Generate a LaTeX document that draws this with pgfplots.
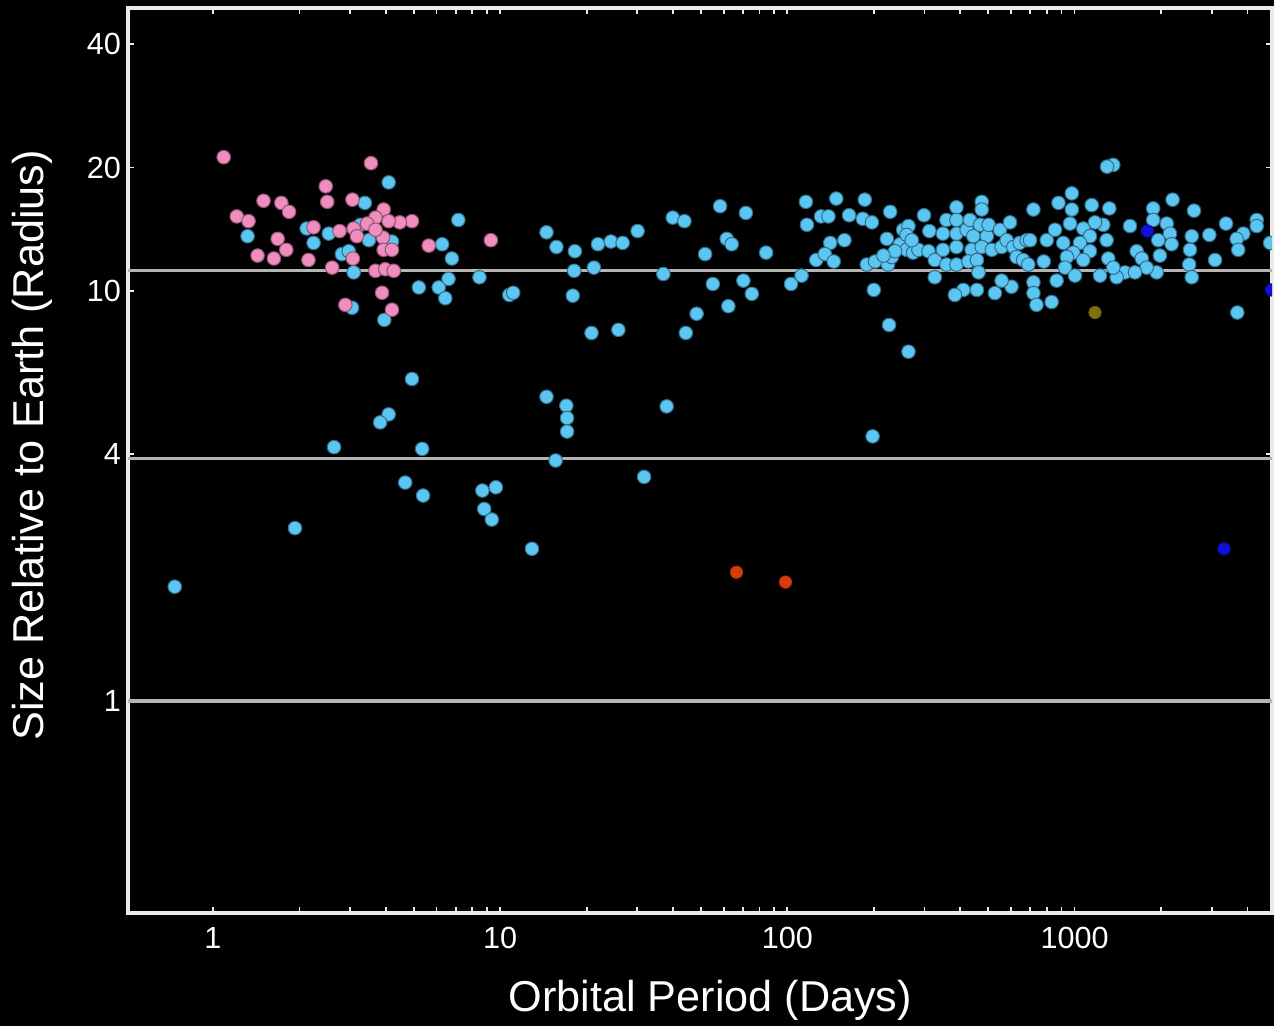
\documentclass[border=0pt]{standalone}
\usepackage{pgfplots}
\pgfplotsset{compat=1.18}
\usepackage{fontspec}
\setmainfont{Liberation Sans}

\definecolor{planetblue}{RGB}{92,198,242}
\definecolor{planetpink}{RGB}{240,140,190}
\definecolor{planetred}{RGB}{215,60,10}
\definecolor{planetnavy}{RGB}{15,15,215}
\definecolor{planetolive}{RGB}{125,115,10}
\definecolor{refline}{RGB}{180,180,180}
\definecolor{framecol}{RGB}{235,235,235}

\begin{document}
\begin{tikzpicture}
\path[use as bounding box, fill=black] (-64pt,-56.5pt) rectangle (573pt,456.5pt);
\begin{axis}[
  scale only axis, width=572pt, height=452.5pt,
  xmode=log, ymode=log,
  xmin=0.506, xmax=4868, ymin=0.304, ymax=49,
  clip marker paths=true,
  axis line style={draw=framecol, line width=1.6pt},
  xtick={1,10,100,1000}, xticklabels={1,10,100,1000},
  ytick={1,4,10,20,40}, yticklabels={1,4,10,20,40},
  minor xtick={2,3,4,5,6,7,8,9,20,30,40,50,60,70,80,90,200,300,400,500,600,700,800,900,2000,3000,4000},
  minor ytick={},
  tick align=inside, xtick pos=both, ytick pos=both,
  major tick length=3pt, minor tick length=3pt,
  tick style={draw=framecol, line width=0.9pt},
  ticklabel style={font=\fontsize{15.3}{18}\selectfont, text=white},
  xticklabel style={yshift=-3.5pt},
  xlabel={Orbital Period (Days)},
  ylabel={Size Relative to Earth (Radius)},
  label style={font=\fontsize{21.6}{26}\selectfont, text=white},
  xlabel style={at={(axis description cs:0.509,-0.0961)}, anchor=center},
  ylabel style={at={(axis description cs:-0.0839,0.5166)}, anchor=center},
]

% Earth, Neptune and Jupiter radii
\addplot[refline, line width=1.6pt, forget plot] coordinates {(0.506,1) (4868,1)};
\addplot[refline, line width=1.6pt, forget plot] coordinates {(0.506,3.9) (4868,3.9)};
\addplot[refline, line width=1.6pt, forget plot] coordinates {(0.506,11.2) (4868,11.2)};

% light blue planets
\addplot[only marks, mark=*, mark size=3.4pt,
  mark options={fill=planetblue, draw=planetblue!55!black, line width=0.5pt}] table {
x y
1.32 13.6
2.12 14.2
2.24 13.1
2.53 13.8
4.09 18.4
3.38 16.4
3.49 13.3
3.26 14.5
4.20 13.2
2.81 12.3
2.97 12.5
3.09 11.1
6.28 13.0
7.15 14.9
6.79 12.0
6.61 10.7
5.21 10.2
6.11 10.2
6.44 9.6
3.05 9.1
3.95 8.5
4.93 6.1
4.09 5.0
3.82 4.78
2.64 4.16
5.35 4.12
4.67 3.41
5.39 3.17
1.93 2.64
0.736 1.90
8.47 10.8
10.76 9.78
11.1 9.9
14.5 13.9
15.7 12.8
18.2 12.5
18.1 11.2
17.9 9.74
21.9 13.0
24.3 13.2
26.7 13.1
30.1 14.0
21.2 11.4
37.0 11.0
20.8 7.9
25.8 8.04
39.9 15.1
43.8 14.8
58.3 16.1
71.7 15.5
61.5 13.4
64.0 13.0
51.7 12.3
84.3 12.4
55.0 10.4
70.3 10.6
75.2 9.84
62.3 9.18
48.3 8.8
44.3 7.9
103 10.4
112 10.9
116 16.5
117 14.5
14.5 5.52
17.0 5.25
17.1 4.90
17.1 4.54
15.6 3.86
38.0 5.23
31.7 3.52
8.67 3.26
9.66 3.32
8.80 2.94
9.35 2.77
12.9 2.35
148 16.8
186 16.7
164 15.3
131 15.2
139 15.2
183 15.0
197 14.7
228 15.6
299 15.3
388 16.0
475 16.5
475 15.8
719 15.8
879 16.4
141 13.1
158 13.3
222 13.4
126 11.9
135 12.3
145 11.8
189 11.6
202 11.8
224 11.6
231 12.1
200 10.06
226 8.26
264 7.11
253 14.1
264 14.4
247 13.0
260 12.6
274 12.4
286 12.6
237 12.5
216 12.2
312 14.0
310 12.5
326 11.9
326 10.8
348 13.8
358 14.9
348 12.6
358 11.6
388 14.9
388 13.8
388 12.8
388 11.6
421 14.1
432 14.9
444 13.6
438 12.6
427 11.8
457 11.9
463 11.1
469 14.5
495 13.6
502 14.5
475 12.8
515 12.6
550 14.1
557 12.8
596 14.7
580 13.3
612 12.8
644 13.1
681 13.3
628 12.1
662 11.9
690 11.6
700 13.3
800 13.3
781 11.8
855 14.1
528 9.88
603 10.24
557 10.6
457 10.06
410 10.06
383 9.78
719 10.5
719 9.88
737 9.25
832 9.4
866 10.6
260 13.7
271 13.3
1364 20.3
1297 20.1
978 17.3
978 15.8
1147 16.2
1321 15.9
1559 14.4
1878 15.9
2194 16.7
2605 15.7
3368 14.6
4306 14.9
4306 14.4
4795 13.1
3870 13.8
3667 13.4
3714 12.6
2945 13.7
3084 11.9
2558 13.6
2522 12.6
2506 11.6
2558 10.8
2093 14.6
2148 13.8
2177 13.0
1955 13.3
1982 12.2
1931 11.1
1878 14.9
1645 12.5
1713 12.0
1782 11.4
1498 11.1
1623 11.1
1401 10.8
1226 10.9
1310 12.0
1364 11.4
1293 13.3
1259 14.5
1178 14.7
1072 14.2
1131 13.6
964 14.6
913 13.1
1044 13.1
990 12.4
1131 12.5
1072 11.9
940 12.1
926 11.4
1003 10.9
3686 8.86
198 4.42
};

% pink planets
\addplot[only marks, mark=*, mark size=3.4pt,
  mark options={fill=planetpink, draw=planetpink!60!black, line width=0.5pt}] table {
x y
1.09 21.2
3.55 20.5
2.47 18.0
2.50 16.5
3.06 16.7
1.50 16.6
1.73 16.4
1.84 15.6
1.21 15.2
1.33 14.8
1.68 13.4
1.80 12.6
1.43 12.2
1.63 12.0
2.15 11.9
2.24 14.3
2.76 14.0
4.93 14.8
4.47 14.7
3.93 15.8
3.68 15.1
4.09 14.8
3.09 14.2
3.17 13.6
3.91 13.5
3.93 12.6
4.20 12.6
3.07 12.0
2.60 11.4
3.68 11.2
3.98 11.3
4.26 11.2
5.64 12.9
3.88 9.9
4.20 9.0
2.89 9.25
3.44 14.6
3.68 14.1
9.28 13.3
};

% red planets
\addplot[only marks, mark=*, mark size=3.1pt, mark options={fill=planetred, draw=planetred!80!black, line width=0.4pt}] table {
x y
66.5 2.06
98.5 1.95
};

% dark blue planets
\addplot[only marks, mark=*, mark size=3.1pt, mark options={fill=planetnavy, draw=planetnavy!80!black, line width=0.4pt}] table {
x y
1791 14.0
4850 10.06
3315 2.35
};

% olive planet
\addplot[only marks, mark=*, mark size=3.1pt, mark options={fill=planetolive, draw=planetolive!80!black, line width=0.4pt}] table {
x y
1178 8.86
};
\end{axis}
\end{tikzpicture}
\end{document}
